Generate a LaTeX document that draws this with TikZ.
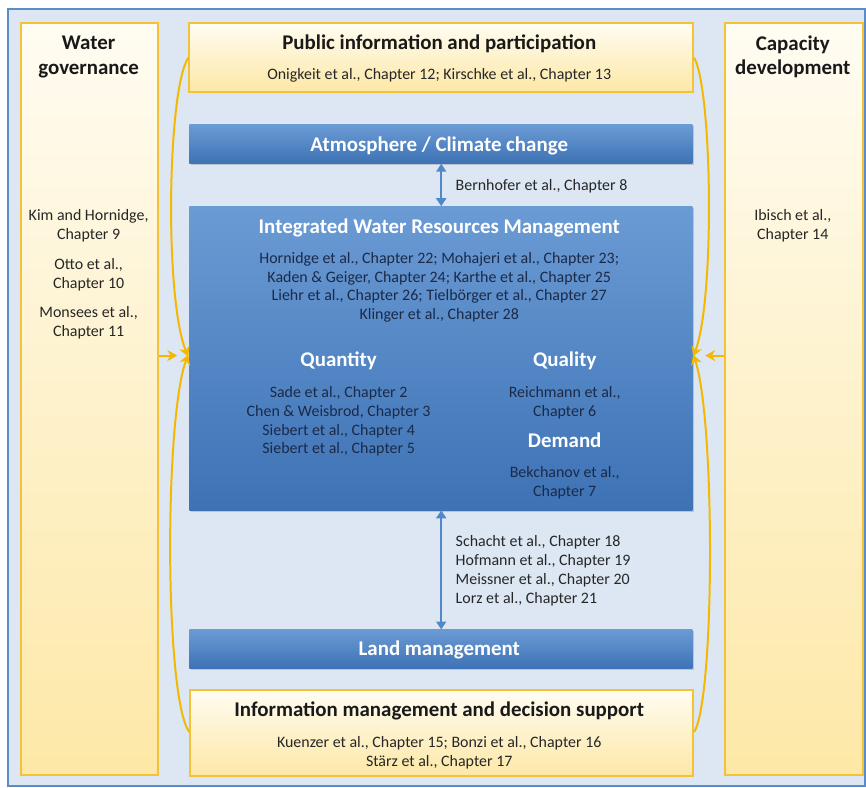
\documentclass[tikz,border=0pt]{standalone}
\usepackage{fontspec}
\setmainfont{Carlito}
\usetikzlibrary{arrows.meta, shadows}

\definecolor{frameblue}{HTML}{5B8BC9}
\definecolor{paleblue}{HTML}{DDE7F3}
\definecolor{boxgold}{HTML}{F4C236}
\definecolor{cream}{HTML}{FFFCF2}
\definecolor{sand}{HTML}{FDE8A6}
\definecolor{barlight}{HTML}{6B9BD4}
\definecolor{bardark}{HTML}{3D72B5}
\definecolor{linkblue}{HTML}{5088C8}
\definecolor{inktext}{HTML}{1B2A47}
\definecolor{arrowgold}{HTML}{F5B800}

\begin{document}
\begin{tikzpicture}[x=1pt, y=-1pt,
    yellowbox/.style={draw=boxgold, line width=2pt, top color=cream, bottom color=sand, inner sep=0pt, anchor=north west},
    sidebox/.style={yellowbox, top color=cream, middle color=sand, bottom color=sand},
    bluebar/.style={draw=none, top color=barlight, bottom color=bardark, inner sep=0pt, anchor=north west,
        drop shadow={opacity=0.35, shadow xshift=1.5pt, shadow yshift=-1.5pt}},
    head/.style={font=\bfseries\fontsize{21}{25}\selectfont, align=center, text=black!90},
    whitehead/.style={head, text=white},
    refs/.style={font=\fontsize{16}{19}\selectfont, align=center, text=black!85},
    inrefs/.style={refs, text=inktext},
    goldlink/.style={draw=arrowgold, line width=2pt, -{Stealth[length=10pt, width=11pt]}},
    bluelink/.style={draw=linkblue, line width=2pt, {Triangle[length=8pt, width=10pt]}-{Triangle[length=8pt, width=10pt]}}]

    % background panel
    \node[draw=frameblue, line width=2.5pt, fill=paleblue, minimum width=860pt, minimum height=780pt, inner sep=0pt, anchor=north west] (frame) at (7,8) {};
    \useasboundingbox (0,0) rectangle (866,786);

    % side columns
    \node[sidebox, minimum width=138pt, minimum height=755pt] (gov) at (20,22) {};
    \node[sidebox, minimum width=138pt, minimum height=755pt] (cap) at (727,22) {};

    % yellow boxes on top and bottom
    \node[yellowbox, minimum width=506pt, minimum height=69pt] (pub) at (189,22) {};
    \node[yellowbox, minimum width=505pt, minimum height=86pt] (info) at (190,692) {};

    % blue boxes in the middle
    \node[bluebar, minimum width=505pt, minimum height=39pt] (atmo) at (190,125) {};
    \node[bluebar, minimum width=505pt, minimum height=305pt] (iwrm) at (190,207) {};
    \node[bluebar, minimum width=505pt, minimum height=39pt] (land) at (190,632) {};

    % headings
    \node[head] (govT) at (89,57) {Water\\governance};
    \node[head] (capT) at (796,57) {Capacity\\development};
    \node[head] (pubT) at (441,43.5) {Public information and participation};
    \node[whitehead] (atmoT) at (441,146.5) {Atmosphere / Climate change};
    \node[whitehead] (iwrmT) at (441,228.5) {Integrated Water Resources Management};
    \node[whitehead] (quanT) at (340,362.5) {Quantity};
    \node[whitehead] (qualT) at (567,362.5) {Quality};
    \node[whitehead] (demT) at (567,442.5) {Demand};
    \node[whitehead] (landT) at (441,652.5) {Land management};
    \node[head] (infoT) at (441,713.5) {Information management and decision support};

    % chapter references
    \node[refs] (govA) at (89,227) {Kim and Hornidge,\\Chapter 9};
    \node[refs] (govB) at (89,276) {Otto et al.,\\Chapter 10};
    \node[refs] (govC) at (89,324) {Monsees et al.,\\Chapter 11};
    \node[refs] (capA) at (796,227) {Ibisch et al.,\\Chapter 14};
    \node[refs] (pubR) at (441,75.5) {Onigkeit et al., Chapter 12; Kirschke et al., Chapter 13};
    \node[refs, anchor=west] (atmoR) at (454,187.5) {Bernhofer et al., Chapter 8};
    \node[inrefs] (iwrmR) at (441,288.5) {Hornidge et al., Chapter 22; Mohajeri et al., Chapter 23;\\
        Kaden \& Geiger, Chapter 24; Karthe et al., Chapter 25\\
        Liehr et al., Chapter 26; Tielbörger et al., Chapter 27\\
        Klinger et al., Chapter 28};
    \node[inrefs] (quanR) at (340,423) {Sade et al., Chapter 2\\Chen \& Weisbrod, Chapter 3\\
        Siebert et al., Chapter 4\\Siebert et al., Chapter 5};
    \node[inrefs] (qualR) at (567,404) {Reichmann et al.,\\Chapter 6};
    \node[inrefs] (demR) at (567,485) {Bekchanov et al.,\\Chapter 7};
    \node[refs, anchor=west, align=left] (landR) at (454,573) {Schacht et al., Chapter 18\\
        Hofmann et al., Chapter 19\\Meissner et al., Chapter 20\\Lorz et al., Chapter 21};
    \node[refs] (infoR) at (441,756) {Kuenzer et al., Chapter 15; Bonzi et al., Chapter 16\\Stärz et al., Chapter 17};

    % links between the blue boxes
    \draw[bluelink] (atmo.south -| 443,0) -- (iwrm.north -| 443,0);
    \draw[bluelink] (iwrm.south -| 443,0) -- (land.north -| 443,0);

    % gold arrows into the IWRM box
    \coordinate (inL) at (189,357);
    \coordinate (inR) at (696,357);
    \draw[goldlink] (gov.east |- inL) -- (178,357);
    \draw[goldlink] (cap.west |- inR) -- (708,357);
    \draw[goldlink] (pub.west |- 0,58) .. controls (168,90) and (165,300) .. ([yshift=-1pt]inL);
    \draw[goldlink] (info.west |- 0,735) .. controls (165,700) and (165,420) .. ([yshift=1pt]inL);
    \draw[goldlink] (pub.east |- 0,58) .. controls (715,90) and (718,300) .. ([yshift=-1pt]inR);
    \draw[goldlink] (info.east |- 0,735) .. controls (718,700) and (718,420) .. ([yshift=1pt]inR);
\end{tikzpicture}
\end{document}
